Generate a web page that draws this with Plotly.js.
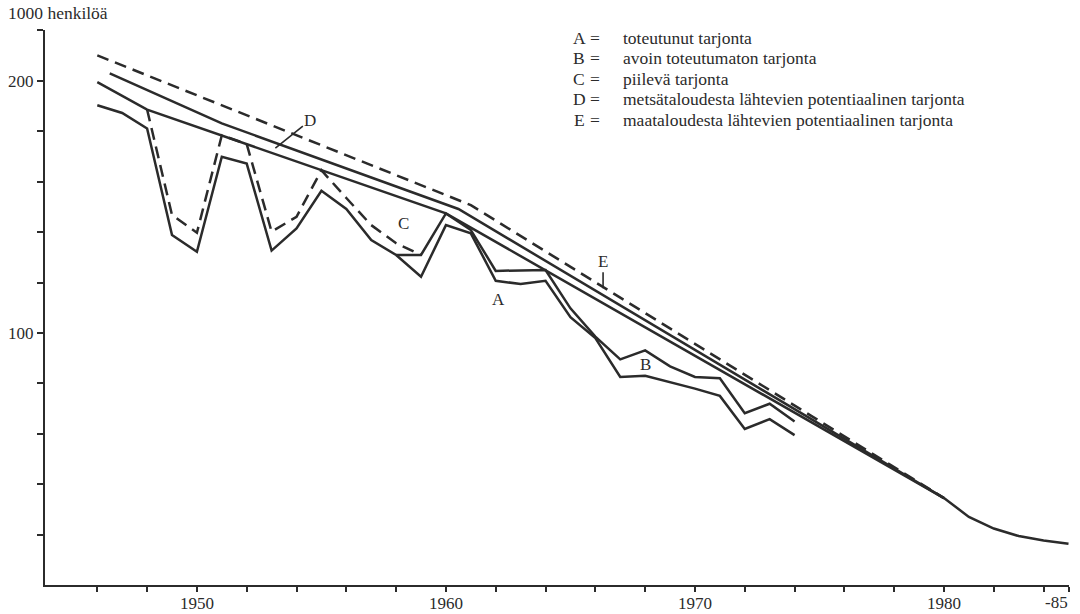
<!DOCTYPE html>
<html><head><meta charset="utf-8">
<script src="https://cdn.plot.ly/plotly-3.0.1.min.js"></script>
<style>html,body{margin:0;padding:0;background:#fff}#chart{width:1080px;height:614px}</style>
</head><body><div id="chart"></div>
<script>
// A = toteutunut tarjonta
const yearsA = [1946,1947,1948,1949,1950,1951,1952,1953,1954,1955,1956,1957,1958,1959,1960,1961,1962,1963,1964,1965,1966,1967,1968,1969,1970,1971,1972,1973,1974];
const valuesA = [187.0,183.1,175.4,130.9,125.0,162.3,159.3,125.4,133.3,147.8,140.6,129.1,123.9,116.7,134.5,131.5,115.4,114.4,115.4,104.4,98.6,88.6,88.9,87.4,85.8,84.1,76.8,78.9,75.5];
// A+B boundary, dashed part (early years)
const yearsBdash = [1948,1949,1950,1951,1952,1953,1954,1955,1956,1957,1958,1959];
const valuesBdash = [184.8,138.3,131.7,172.2,168.1,132.1,137.6,156.4,144.9,134.5,128.0,123.9];
// A+B boundary, solid part (later years)
const yearsBsolid = [1958,1959,1960,1961,1962,1963,1964,1965,1966,1967,1968,1969,1970,1971,1972,1973,1974];
const valuesBsolid = [123.9,123.9,138.9,132.7,118.6,118.8,118.9,107.0,99.0,93.0,95.3,91.2,88.6,88.3,80.2,82.3,78.4];
// total (smooth lower line), continues to 1985
const yearsT = [1946,1948,1960,1980,1981,1982,1983,1984,1985];
const valuesT = [199.3,184.8,138.9,63.5,60.3,58.4,57.2,56.5,56.0];
// D = metsätaloudesta lähtevien potentiaalinen tarjonta
const yearsD = [1946.5,1951,1960.5,1980];
const valuesD = [204.2,177.9,140.6,63.5];
// E = maataloudesta lähtevien potentiaalinen tarjonta
const yearsE = [1946,1961,1980];
const valuesE = [214.5,142.1,63.5];

const legendKeys = ['A','B','C','D','E'];
const legendTexts = ['toteutunut tarjonta','avoin toteutumaton tarjonta','piilevä tarjonta','metsätaloudesta lähtevien potentiaalinen tarjonta','maataloudesta lähtevien potentiaalinen tarjonta'];

const xTickVals = [1946,1948,1950,1952,1954,1956,1958,1960,1962,1964,1966,1968,1970,1972,1974,1976,1978,1980,1982,1984,1985];
const xTickText = ['','','1950','','','','','1960','','','','','1970','','','','','1980','','',''];
const yTickVals = [-4,-3,-2,-1,0,1,2,3,4,5,6].map(k => 100*Math.pow(2,k/5));
const yTickText = yTickVals.map(v => Math.abs(v-100)<0.01 ? '100' : (Math.abs(v-200)<0.01 ? '200' : ''));

const INK = '#2b2b2b';
const FONT = {family:'Liberation Serif, serif', size:17, color:INK};
const LFONT = {family:'Liberation Serif, serif', size:17.5, color:INK};
const solid = {color:INK, width:2.5};
const dashed = {color:INK, width:2.5, dash:'12px,7px'};

const traces = [
  {x:yearsE, y:valuesE, mode:'lines', line:dashed},
  {x:yearsD, y:valuesD, mode:'lines', line:solid},
  {x:yearsT, y:valuesT, mode:'lines', line:solid},
  {x:yearsBdash, y:valuesBdash, mode:'lines', line:dashed},
  {x:yearsBsolid, y:valuesBsolid, mode:'lines', line:solid},
  {x:yearsA, y:valuesA, mode:'lines', line:solid}
];

// plot area in pixels: x 45..1069, y 30..585.5
const L=45, R=1069, T=30, B=585.5;
const px = x => (x-L)/(R-L);
const py = y => (B-y)/(B-T);

const ann = [];
ann.push({xref:'paper', yref:'paper', x:px(6), y:py(13), xanchor:'left', yanchor:'middle', text:'1000 henkilöä', showarrow:false, font:LFONT});
ann.push({xref:'paper', yref:'paper', x:px(1070), y:py(603), xanchor:'right', yanchor:'middle', text:'-85', showarrow:false, font:FONT});
const rowY = [38, 58.5, 79, 99.5, 120];
legendKeys.forEach((k,i) => {
  ann.push({xref:'paper', yref:'paper', x:px(579), y:py(rowY[i]), xanchor:'center', yanchor:'middle', text:k, showarrow:false, font:LFONT});
  ann.push({xref:'paper', yref:'paper', x:px(595), y:py(rowY[i]), xanchor:'center', yanchor:'middle', text:'=', showarrow:false, font:LFONT});
  ann.push({xref:'paper', yref:'paper', x:px(621), y:py(rowY[i]), xanchor:'left', yanchor:'middle', text:legendTexts[i], showarrow:false, font:LFONT});
});
// series labels
ann.push({x:1958.3, y:Math.log10(135.1), text:'C', showarrow:false, font:FONT});
ann.push({x:1962.1, y:Math.log10(109.5), text:'A', showarrow:false, font:FONT});
ann.push({x:1968.0, y:Math.log10(91.6), text:'B', showarrow:false, font:FONT});
ann.push({x:1953.15, y:Math.log10(166.2), text:'D', showarrow:true, arrowhead:0, arrowwidth:1.6, arrowcolor:INK, ax:35, ay:-28, standoff:0, font:FONT});
ann.push({x:1966.31, y:Math.log10(113.05), text:'E', showarrow:true, arrowhead:0, arrowwidth:1.6, arrowcolor:INK, ax:0, ay:-27, standoff:0, font:FONT});

const layout = {
  width:1080, height:614,
  margin:{l:L, r:1080-R, t:T, b:614-B, pad:0},
  paper_bgcolor:'#ffffff', plot_bgcolor:'#ffffff',
  showlegend:false,
  font:FONT,
  xaxis:{range:[1943.9,1985.02], showgrid:false, zeroline:false, showline:true, linecolor:INK, linewidth:2,
         ticks:'outside', ticklen:5, tickwidth:2, tickcolor:INK, tickmode:'array', tickvals:xTickVals, ticktext:xTickText,
         tickfont:FONT, ticklabelstandoff:-3, automargin:false},
  yaxis:{type:'log', range:[Math.log10(50), Math.log10(230)], showgrid:false, zeroline:false, showline:true, linecolor:INK, linewidth:2,
         ticks:'outside', ticklen:6, tickwidth:2, tickcolor:INK, tickmode:'array', tickvals:yTickVals, ticktext:yTickText,
         tickfont:FONT, automargin:false},
  annotations:ann
};
Plotly.newPlot('chart', traces, layout, {displayModeBar:false, staticPlot:true});
</script>
</body></html>
